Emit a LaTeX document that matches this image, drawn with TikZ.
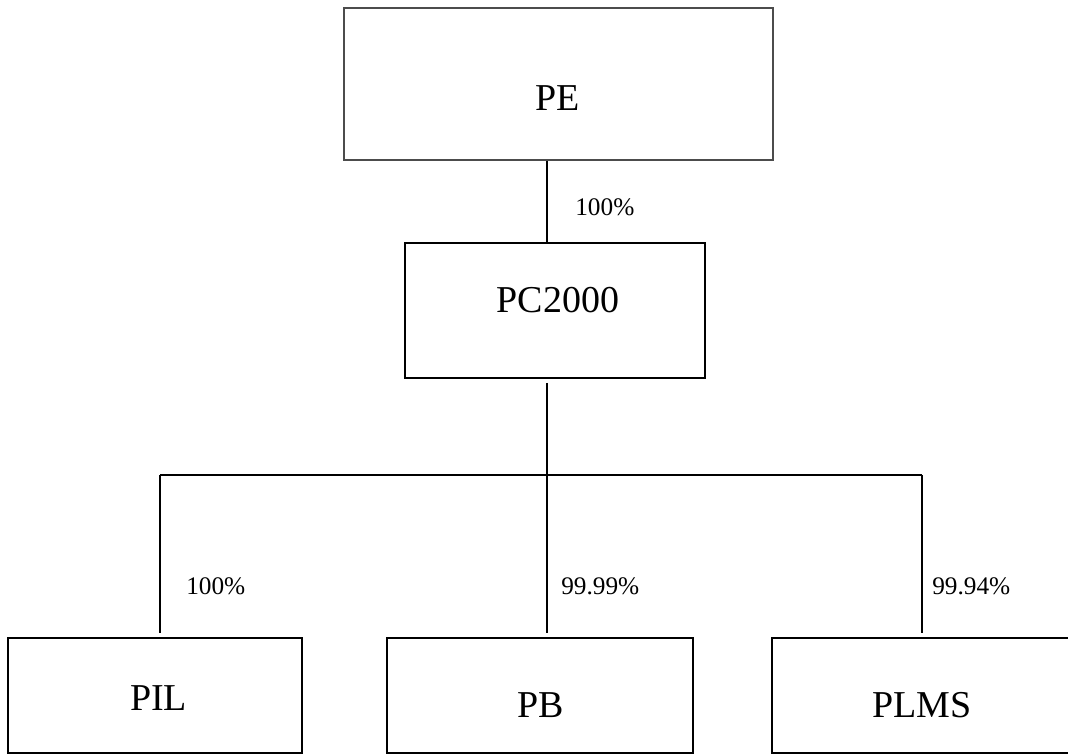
\documentclass[tikz,border=0pt]{standalone}
\usepackage{fontspec}
\setmainfont{Liberation Serif}

\begin{document}
\begin{tikzpicture}[x=0.025cm, y=-0.025cm,
    box/.style={draw, rectangle, line width=1pt, inner sep=0pt},
    boxname/.style={inner sep=0pt, font=\fontsize{27}{30}\selectfont},
    pct/.style={anchor=west, inner sep=0pt, font=\fontsize{18}{20}\selectfont},
    link/.style={line width=0.9pt}]
    \useasboundingbox (0,0) rectangle (1068,754);

    % Holding company
    \node[box, line width=0.8pt, draw=black!70, minimum width=10.725cm, minimum height=3.8cm] (pe) at (558.5,84) {};
    \node[boxname] (petext) at (558,98) {PE};

    % Intermediate company
    \node[box, line width=1.2pt, minimum width=7.5cm, minimum height=3.375cm] (pc) at (555,310.5) {};
    \node[boxname] (pctext) at (558,300.5) {PC2000};

    % Subsidiaries
    \node[box, minimum width=7.35cm, minimum height=2.875cm] (pil) at (155,695.5) {};
    \node[boxname] (piltext) at (158.5,698) {PIL};
    \node[box, minimum width=7.65cm, minimum height=2.875cm] (pb) at (540,695.5) {};
    \node[boxname] (pbtext) at (541,705) {PB};
    \node[box, minimum width=7.7cm, minimum height=2.875cm] (plms) at (926,695.5) {};
    \node[boxname] (plmstext) at (922,705) {PLMS};

    % Connection points
    \coordinate (split) at (547,475);
    \coordinate (pilin) at (160,633);
    \coordinate (pbin) at (547,633);
    \coordinate (plmsin) at (922,633);

    % Connections
    \draw[link] (pe.south -| split) -- (pc.north -| split);
    \draw[link] ([yshift=-0.1cm]pc.south -| split) -- (split);
    \draw[link] (pilin |- split) -- (plmsin |- split);
    \draw[link] (pilin |- split) -- (pilin);
    \draw[link] (split) -- (pbin);
    \draw[link] (plmsin |- split) -- (plmsin);

    % Shareholdings
    \node[pct] (pctpc) at (575,207) {100\%};
    \node[pct] (pctpil) at (186,586) {100\%};
    \node[pct] (pctpb) at (561,586) {99.99\%};
    \node[pct] (pctplms) at (932,586) {99.94\%};
\end{tikzpicture}
\end{document}
